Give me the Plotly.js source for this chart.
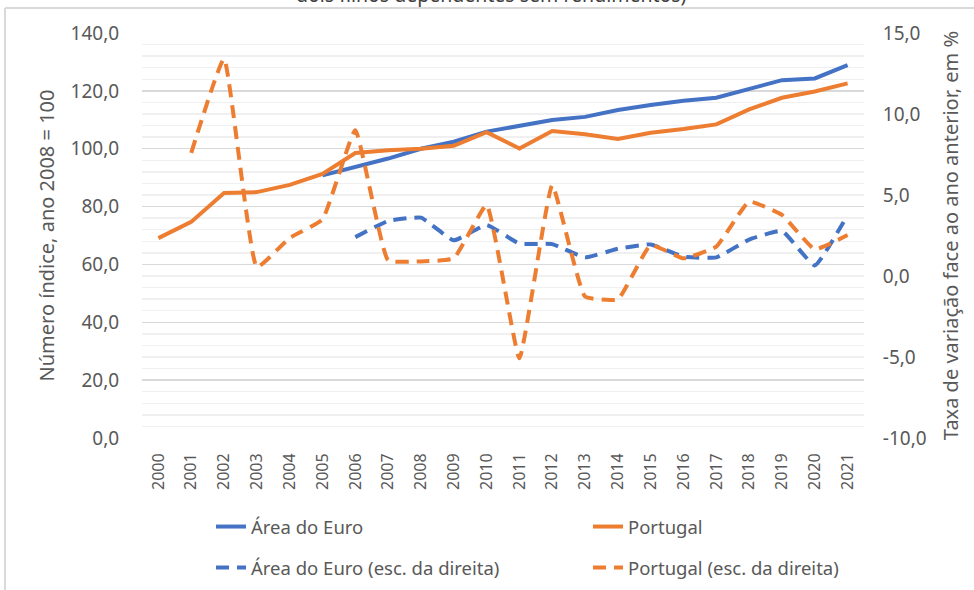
<!DOCTYPE html>
<html>
<head>
<meta charset="utf-8">
<script src="https://cdn.plot.ly/plotly-3.0.1.min.js"></script>
<style>
html,body{margin:0;padding:0;background:#fff;}
#chart{width:974px;height:590px;}
</style>
</head>
<body>
<div id="chart"></div>
<script>
var years = ["2000","2001","2002","2003","2004","2005","2006","2007","2008","2009","2010","2011","2012","2013","2014","2015","2016","2017","2018","2019","2020","2021"];
var euroIndex = [null,null,null,null,null,90.8,93.8,96.6,100.0,102.4,105.9,107.8,109.9,111.0,113.4,115.1,116.6,117.6,120.5,123.7,124.3,128.9];
var ptIndex = [69.1,74.7,84.7,85.0,87.5,91.3,98.5,99.5,100.0,101.0,105.7,100.1,106.1,105.0,103.4,105.5,106.8,108.4,113.6,117.6,119.8,122.6];
var euroRate = [null,null,null,null,null,null,2.4,3.4,3.6,2.2,3.15,2.0,1.97,1.15,1.68,1.95,1.19,1.15,2.25,2.78,0.65,3.77];
var ptRate = [null,7.6,13.4,0.55,2.35,3.5,9.0,0.97,0.9,1.09,4.38,-5.08,5.6,-1.27,-1.44,1.91,1.09,1.81,4.59,3.77,1.65,2.53];
var leftTicks = [0,20,40,60,80,100,120,140];
var leftTickText = ["0,0","20,0","40,0","60,0","80,0","100,0","120,0","140,0"];
var rightTicks = [-10,-5,0,5,10,15];
var rightTickText = ["-10,0","-5,0","0,0","5,0","10,0","15,0"];
var names = ["Área do Euro","Portugal","Área do Euro (esc. da direita)","Portugal (esc. da direita)"];
var titleText = "dois filhos dependentes sem rendimentos)";
var leftTitle = "Número índice, ano 2008 = 100";
var rightTitle = "Taxa de variação face ao ano anterior, em %";

var BLUE = "#4472C4", ORANGE = "#ED7D31";
var FONT = "Noto Sans, Open Sans, sans-serif";
var DASH = "13px,8px";
var SMOOTH = 0.35;

var traces = [
  {x: years, y: euroIndex, name: names[0], type: "scatter", mode: "lines",
   line: {color: BLUE, width: 4}, legend: "legend", hoverinfo: "skip"},
  {x: years, y: ptIndex, name: names[1], type: "scatter", mode: "lines",
   line: {color: ORANGE, width: 4}, legend: "legend2", hoverinfo: "skip"},
  {x: years, y: euroRate, name: names[2], type: "scatter", mode: "lines", yaxis: "y2",
   line: {color: BLUE, width: 4, dash: DASH, shape: "spline", smoothing: SMOOTH}, legend: "legend3", hoverinfo: "skip"},
  {x: years, y: ptRate, name: names[3], type: "scatter", mode: "lines", yaxis: "y2",
   line: {color: ORANGE, width: 4, dash: DASH, shape: "spline", smoothing: SMOOTH}, legend: "legend4", hoverinfo: "skip"}
];

function leg(x, y) {
  return {
    orientation: "v", xanchor: "left", yanchor: "middle", x: x, y: y,
    font: {family: FONT, size: 18.5, color: "#595959"},
    bgcolor: "rgba(0,0,0,0)", borderwidth: 0
  };
}

var layout = {
  width: 974, height: 590,
  margin: {l: 142, r: 110, t: 33, b: 152, autoexpand: false},
  paper_bgcolor: "#fff", plot_bgcolor: "#fff",
  font: {family: FONT, color: "#595959"},
  showlegend: true,
  legend: leg(0.0956, -0.2198),
  legend2: leg(0.6177, -0.2198),
  legend3: leg(0.0956, -0.321),
  legend4: leg(0.6177, -0.321),
  xaxis: {
    type: "category", range: [-0.5, 21.5], tickangle: -90, showgrid: false, zeroline: false,
    showline: false, ticks: "outside", ticklen: 8, tickcolor: "rgba(0,0,0,0)",
    tickfont: {family: FONT, size: 16, color: "#595959"}, fixedrange: true
  },
  yaxis: {
    range: [0, 140], tickvals: leftTicks, ticktext: leftTickText,
    showgrid: true, gridcolor: "#d9d9d9", gridwidth: 1.5, zeroline: false,
    minor: {dtick: 4, tick0: 0, showgrid: true, gridcolor: "#f0f0f0", gridwidth: 1.5},
    ticks: "outside", ticklen: 18, tickcolor: "rgba(0,0,0,0)",
    tickfont: {family: FONT, size: 19, color: "#595959"},
    title: {text: leftTitle, font: {family: FONT, size: 20, color: "#595959"}, standoff: 10},
    fixedrange: true
  },
  yaxis2: {
    range: [-10, 15], tickvals: rightTicks, ticktext: rightTickText,
    overlaying: "y", side: "right", showgrid: false, zeroline: false,
    ticks: "outside", ticklen: 14, tickcolor: "rgba(0,0,0,0)",
    tickfont: {family: FONT, size: 19, color: "#595959"},
    title: {text: rightTitle, font: {family: FONT, size: 20, color: "#595959"}, standoff: 18},
    fixedrange: true
  },
  shapes: [
    {type: "line", xref: "paper", yref: "paper", x0: -0.1898, x1: 1.2, y0: 1.0617, y1: 1.0617,
     line: {color: "#d9d9d9", width: 2}},
    {type: "line", xref: "paper", yref: "paper", x0: -0.1898, x1: -0.1898, y0: 1.0617, y1: -0.45,
     line: {color: "#d9d9d9", width: 2}}
  ],
  annotations: [
    {text: titleText, xref: "paper", yref: "paper", x: 0.484, y: 1.0568, xanchor: "center", yanchor: "bottom",
     showarrow: false, font: {family: FONT, size: 19.5, color: "#404040"}}
  ]
};

Plotly.newPlot("chart", traces, layout, {displayModeBar: false, staticPlot: true});
</script>
</body>
</html>
